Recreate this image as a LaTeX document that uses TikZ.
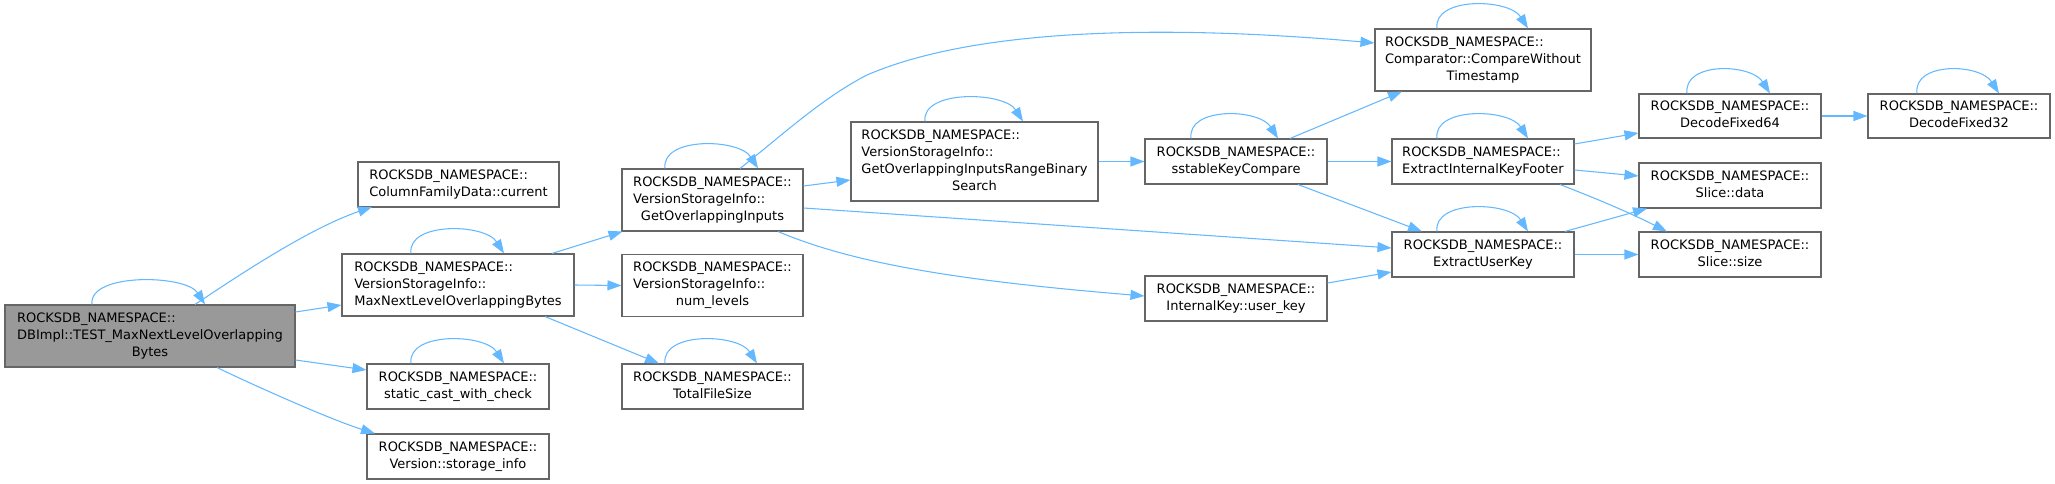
\documentclass[tikz,border=0pt]{standalone}
\usepackage{fontspec}
\usetikzlibrary{arrows.meta,calc}
\newfontfamily\dvsfam{DejaVu Sans}
\definecolor{edgeblue}{HTML}{63B8FF}
\definecolor{boxgray}{HTML}{666666}
\definecolor{maingray}{HTML}{999999}
\newcommand\nl[2]{\begin{tabular}{@{}l@{}}#1\\\multicolumn{1}{@{}c@{}}{#2}\end{tabular}}
\newcommand\selfloop[3]{\draw[edge] ($(#1.north)+(#2,0)$) .. controls +(-4,-32) and +(-19,-30) .. ($(#1.north)+(#3,0)$);}
\tikzset{
  box/.style={draw=boxgray, fill=white, line width=0.8pt, inner sep=0pt,
    font={\dvsfam\fontsize{9.75pt}{12.75pt}\selectfont}, text=black},
  mainbox/.style={box, fill=maingray},
  sz/.style 2 args={minimum width=#1*0.75pt, minimum height=#2*0.75pt},
  edge/.style={draw=edgeblue, line width=0.8pt, -{Triangle[length=10.5pt,width=7.5pt]}}
}
\begin{document}
\begin{tikzpicture}[x=0.75pt,y=-0.75pt]
\useasboundingbox (0,0) rectangle (2055,484);
% nodes
\node[mainbox, sz={290}{62}] (A) at (150,336) {\nl{ROCKSDB\_NAMESPACE::\\DBImpl::TEST\_MaxNextLevelOverlapping}{Bytes}};
\node[box, sz={201}{45}] (B) at (458.5,184.5) {\nl{ROCKSDB\_NAMESPACE::}{ColumnFamilyData::current}};
\node[box, sz={232}{62}] (C) at (458,285) {\nl{ROCKSDB\_NAMESPACE::\\VersionStorageInfo::}{MaxNextLevelOverlappingBytes}};
\node[box, sz={182}{45}] (D) at (458,386.5) {\nl{ROCKSDB\_NAMESPACE::}{static\_cast\_with\_check}};
\node[box, sz={182}{45}] (E) at (458,456.5) {\nl{ROCKSDB\_NAMESPACE::}{Version::storage\_info}};
\node[box, sz={181}{62}] (F) at (712.5,200) {\nl{ROCKSDB\_NAMESPACE::\\VersionStorageInfo::}{GetOverlappingInputs}};
\node[box, sz={181}{62}] (G) at (712.5,285.5) {\nl{ROCKSDB\_NAMESPACE::\\VersionStorageInfo::}{num\_levels}};
\node[box, sz={181}{45}] (H) at (712.5,386.5) {\nl{ROCKSDB\_NAMESPACE::}{TotalFileSize}};
\node[box, sz={247}{79}] (I) at (974.5,161.5) {\nl{ROCKSDB\_NAMESPACE::\\VersionStorageInfo::\\GetOverlappingInputsRangeBinary}{Search}};
\node[box, sz={182}{45}] (J) at (1236,161.5) {\nl{ROCKSDB\_NAMESPACE::}{sstableKeyCompare}};
\node[box, sz={182}{45}] (K) at (1236,298.5) {\nl{ROCKSDB\_NAMESPACE::}{InternalKey::user\_key}};
\node[box, sz={216}{62}] (L) at (1483,60) {\nl{ROCKSDB\_NAMESPACE::\\Comparator::CompareWithout}{Timestamp}};
\node[box, sz={182}{45}] (M) at (1483,161.5) {\nl{ROCKSDB\_NAMESPACE::}{ExtractInternalKeyFooter}};
\node[box, sz={182}{45}] (N) at (1483,254.5) {\nl{ROCKSDB\_NAMESPACE::}{ExtractUserKey}};
\node[box, sz={182}{44}] (O) at (1730,116) {\nl{ROCKSDB\_NAMESPACE::}{DecodeFixed64}};
\node[box, sz={182}{44}] (P) at (1959,116) {\nl{ROCKSDB\_NAMESPACE::}{DecodeFixed32}};
\node[box, sz={182}{45}] (Q) at (1730,185.5) {\nl{ROCKSDB\_NAMESPACE::}{Slice::data}};
\node[box, sz={182}{45}] (R) at (1730,254.5) {\nl{ROCKSDB\_NAMESPACE::}{Slice::size}};
% self loops
\selfloop{A}{-58}{55}
\selfloop{C}{-47}{46}
\selfloop{D}{-47}{46}
\selfloop{F}{-47.5}{45.5}
\selfloop{H}{-47.5}{44.5}
\selfloop{I}{-49.5}{48.5}
\selfloop{J}{-45}{42}
\selfloop{L}{-46}{45}
\selfloop{M}{-46}{45}
\selfloop{N}{-46}{45}
\selfloop{O}{-43}{40}
\selfloop{P}{-42}{40}
% edges
\draw[edge] ($(A.north)+(45,0)$) .. controls +(45,-30) and +(-62,21) .. ($(B.center)+(-86.5,22.5)$);
\draw[edge] ($(A.east)+(0,-24)$) -- ($(C.west)+(0,20)$);
\draw[edge] ($(A.east)+(0,24)$) -- ($(D.west)+(0,-16.5)$);
\draw[edge] ($(A.south)+(67,0)$) .. controls +(33,16) and +(-45,-14) .. ($(E.north)+(-83,0)$);
\draw[edge] ($(C.north)+(94,0)$) -- ($(F.south)+(-90,0)$);
\draw[edge] (C.east) -- (G.west);
\draw[edge] ($(C.south)+(87,0)$) -- ($(H.north)+(-53.5,0)$);
\draw[edge] ($(F.north)+(27.5,0)$) .. controls (780,137) and (822,98) .. (867,75)
  .. controls (990,22) and (1205,28) .. ($(L.west)+(0,-17)$);
\draw[edge] ($(F.east)+(0,-14)$) -- ($(I.west)+(0,18.5)$);
\draw[edge] ($(F.east)+(0,8)$) -- ($(N.west)+(0,-6.5)$);
\draw[edge] ($(F.south)+(65.5,0)$) .. controls (850,262) and (950,280) .. ($(K.west)+(0,-2.5)$);
\draw[edge] (I.east) -- (J.west);
\draw[edge] ($(J.north)+(54,0)$) -- ($(L.south)+(-81,0)$);
\draw[edge] (J.east) -- (M.west);
\draw[edge] ($(J.south)+(62,0)$) -- ($(N.north)+(-61,0)$);
\draw[edge] ($(K.east)+(0,-15.5)$) -- ($(N.west)+(0,17.5)$);
\draw[edge] ($(M.east)+(0,-17.5)$) -- ($(O.west)+(0,17)$);
\draw[edge] ($(M.east)+(0,8.5)$) -- ($(Q.west)+(0,-9.5)$);
\draw[edge] ($(M.south)+(77,0)$) .. controls (1600,200) and (1630,213) .. ($(R.north)+(-63,0)$);
\draw[edge] ($(N.north)+(82,0)$) -- ($(Q.south)+(-83,0)$);
\draw[edge] (N.east) -- (R.west);
\draw[edge] (O.east) -- (P.west);
\end{tikzpicture}
\end{document}
